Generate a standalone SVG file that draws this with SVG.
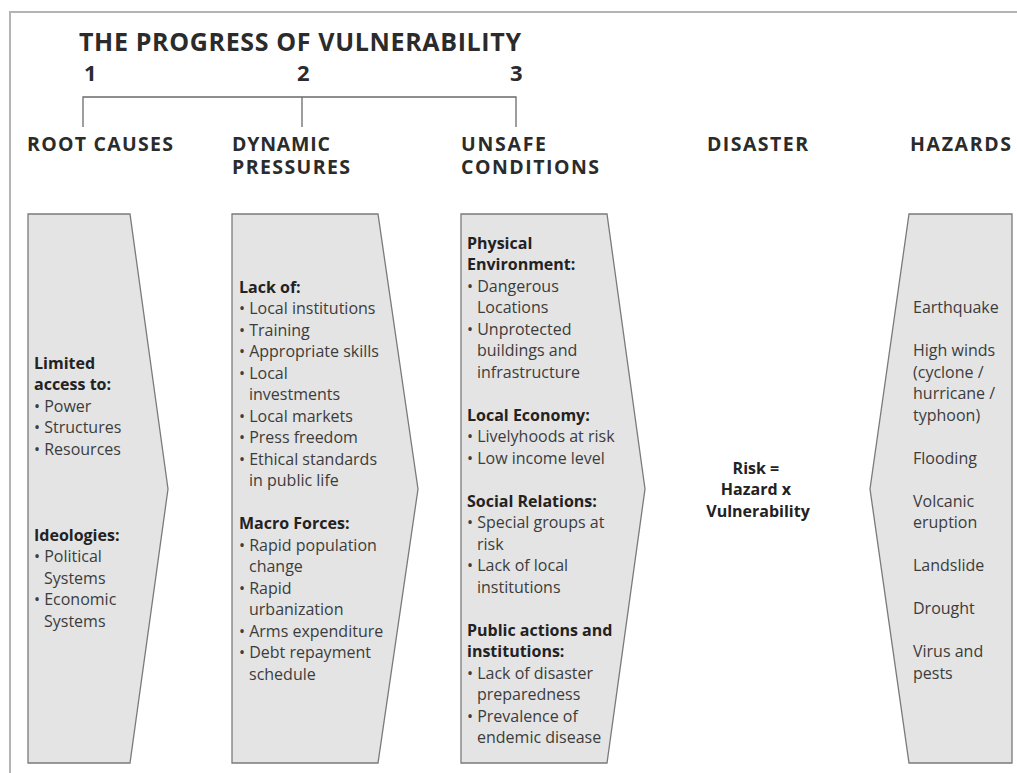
<svg xmlns="http://www.w3.org/2000/svg" width="1017" height="773" viewBox="0 0 1017 773">
<style>
.frame{fill:none;stroke:#b4b4b4;stroke-width:2}
.box{fill:#e4e4e4;stroke:#7a7a7a;stroke-width:1.3}
.con{fill:none;stroke:#6a6a6a;stroke-width:1.3}
.title{font-family:"Open Sans","Liberation Sans",sans-serif;font-weight:700;font-size:25px;fill:#2b2b2b}
.num{font-family:"Open Sans","Liberation Sans",sans-serif;font-weight:700;font-size:22px;fill:#2b2b2b}
.head{font-family:"Open Sans","Liberation Sans",sans-serif;font-weight:700;font-size:19.5px;fill:#2b2b2b}
.t{font-family:"Open Sans","Liberation Sans",sans-serif;font-size:16px;fill:#3c3c3c}
.b{font-weight:700;fill:#222}
.c{text-anchor:middle}
</style>
<rect x="0" y="0" width="1017" height="773" fill="#ffffff"/>
<path class="frame" d="M10,773 V12 H1017"/>

<g id="title">
<text class="title" x="79" y="51" textLength="442" lengthAdjust="spacing">THE PROGRESS OF VULNERABILITY</text>
<text class="num" x="84" y="81">1</text>
<text class="num" x="297" y="81">2</text>
<text class="num" x="510" y="81">3</text>
</g>

<g id="connectors">
<path class="con" d="M83,127 V97 H516 V127 M302,97 V127"/>
</g>

<g id="headings">
<text class="head" x="27" y="151" textLength="146" lengthAdjust="spacing">ROOT CAUSES</text>
<text class="head" x="232" y="151" textLength="98" lengthAdjust="spacing">DYNAMIC</text>
<text class="head" x="232" y="174" textLength="118" lengthAdjust="spacing">PRESSURES</text>
<text class="head" x="461" y="151" textLength="85" lengthAdjust="spacing">UNSAFE</text>
<text class="head" x="461" y="174" textLength="138" lengthAdjust="spacing">CONDITIONS</text>
<text class="head" x="707" y="151" textLength="101" lengthAdjust="spacing">DISASTER</text>
<text class="head" x="910" y="151" textLength="101" lengthAdjust="spacing">HAZARDS</text>
</g>

<g id="root-causes">
<path class="box" d="M28,214 H130 L168,489 L130,763 H28 Z"/>
<text class="t">
<tspan class="b" x="34" y="368.5">Limited</tspan>
<tspan class="b" x="34" y="390">access to:</tspan>
<tspan x="34" y="411.5">• Power</tspan>
<tspan x="34" y="433">• Structures</tspan>
<tspan x="34" y="454.5">• Resources</tspan>
<tspan class="b" x="34" y="540.5">Ideologies:</tspan>
<tspan x="34" y="562">• Political</tspan>
<tspan x="44" y="583.5">Systems</tspan>
<tspan x="34" y="605">• Economic</tspan>
<tspan x="44" y="626.5">Systems</tspan>
</text>
</g>

<g id="dynamic-pressures">
<path class="box" d="M232,214 H378 L418,489 L378,763 H232 Z"/>
<text class="t">
<tspan class="b" x="239" y="292.5">Lack of:</tspan>
<tspan x="239" y="314">• Local institutions</tspan>
<tspan x="239" y="335.5">• Training</tspan>
<tspan x="239" y="357">• Appropriate skills</tspan>
<tspan x="239" y="378.5">• Local</tspan>
<tspan x="249" y="400">investments</tspan>
<tspan x="239" y="421.5">• Local markets</tspan>
<tspan x="239" y="443">• Press freedom</tspan>
<tspan x="239" y="464.5">• Ethical standards</tspan>
<tspan x="249" y="486">in public life</tspan>
<tspan class="b" x="239" y="529">Macro Forces:</tspan>
<tspan x="239" y="550.5">• Rapid population</tspan>
<tspan x="249" y="572">change</tspan>
<tspan x="239" y="593.5">• Rapid</tspan>
<tspan x="249" y="615">urbanization</tspan>
<tspan x="239" y="636.5">• Arms expenditure</tspan>
<tspan x="239" y="658">• Debt repayment</tspan>
<tspan x="249" y="679.5">schedule</tspan>
</text>
</g>

<g id="unsafe-conditions">
<path class="box" d="M461,214 H607 L645,489 L607,763 H461 Z"/>
<text class="t">
<tspan class="b" x="467" y="248.5">Physical</tspan>
<tspan class="b" x="467" y="270">Environment:</tspan>
<tspan x="467" y="291.5">• Dangerous</tspan>
<tspan x="477" y="313">Locations</tspan>
<tspan x="467" y="334.5">• Unprotected</tspan>
<tspan x="477" y="356">buildings and</tspan>
<tspan x="477" y="377.5">infrastructure</tspan>
<tspan class="b" x="467" y="420.5">Local Economy:</tspan>
<tspan x="467" y="442">• Livelyhoods at risk</tspan>
<tspan x="467" y="463.5">• Low income level</tspan>
<tspan class="b" x="467" y="506.5">Social Relations:</tspan>
<tspan x="467" y="528">• Special groups at</tspan>
<tspan x="477" y="549.5">risk</tspan>
<tspan x="467" y="571">• Lack of local</tspan>
<tspan x="477" y="592.5">institutions</tspan>
<tspan class="b" x="467" y="635.5">Public actions and</tspan>
<tspan class="b" x="467" y="657">institutions:</tspan>
<tspan x="467" y="678.5">• Lack of disaster</tspan>
<tspan x="477" y="700">preparedness</tspan>
<tspan x="467" y="721.5">• Prevalence of</tspan>
<tspan x="477" y="743">endemic disease</tspan>
</text>
</g>

<g id="disaster">
<text class="t b c">
<tspan x="758" y="473.5">Risk =</tspan>
<tspan x="758" y="495">Hazard x</tspan>
<tspan x="758" y="516.5">Vulnerability</tspan>
</text>
</g>

<g id="hazards">
<path class="box" d="M909,214 H1012 V763 H909 L870,489 Z"/>
<text class="t">
<tspan x="913" y="313">Earthquake</tspan>
<tspan x="913" y="356">High winds</tspan>
<tspan x="913" y="377.5">(cyclone /</tspan>
<tspan x="913" y="399">hurricane /</tspan>
<tspan x="913" y="420.5">typhoon)</tspan>
<tspan x="913" y="463.5">Flooding</tspan>
<tspan x="913" y="506.5">Volcanic</tspan>
<tspan x="913" y="528">eruption</tspan>
<tspan x="913" y="571">Landslide</tspan>
<tspan x="913" y="614">Drought</tspan>
<tspan x="913" y="657">Virus and</tspan>
<tspan x="913" y="678.5">pests</tspan>
</text>
</g>
</svg>
